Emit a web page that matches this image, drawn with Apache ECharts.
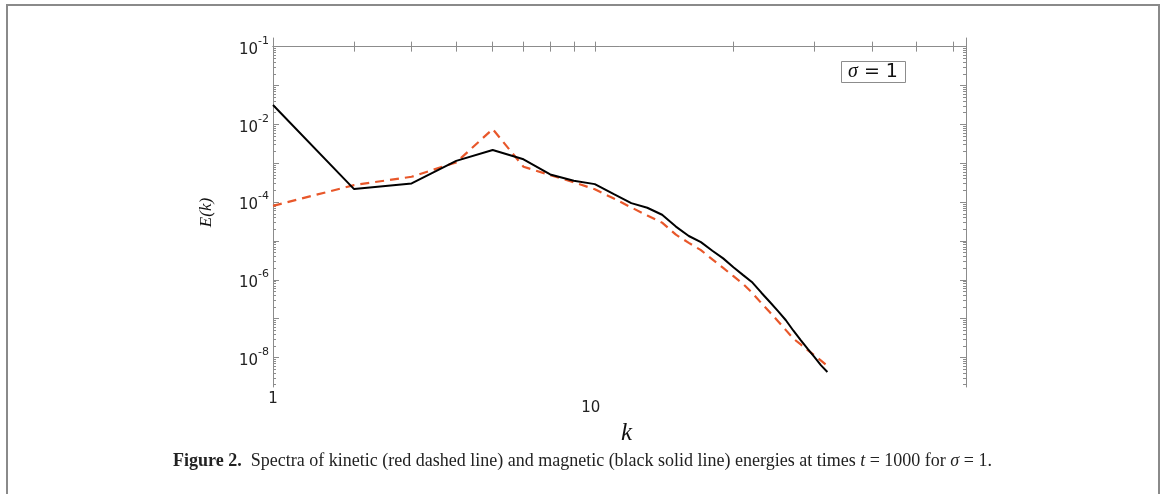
<!DOCTYPE html>
<html><head><meta charset="utf-8">
<script src="https://cdn.jsdelivr.net/npm/echarts@6/dist/echarts.min.js"></script>
<style>html,body{margin:0;padding:0;background:#fff}#c{width:1165px;height:494px}</style>
</head><body><div id="c"></div>
<script>
// wavenumber positions on the log axis
const kValues = [2,3,4,5,6,7,8,9,10,11,12,13,14,15,16,17,18,19,20,21,22,23,24,25,26,27,28,29,30,31,32];
// magnetic energy spectrum (black solid)
const magneticE = [3.14e-2,2.16e-4,3.02e-4,1.15e-3,2.18e-3,1.26e-3,5.15e-4,3.53e-4,2.90e-4,1.60e-4,9.4e-5,7.16e-5,4.72e-5,2.34e-5,1.34e-5,9.3e-6,5.6e-6,3.56e-6,2.11e-6,1.32e-6,8.5e-7,4.66e-7,2.69e-7,1.57e-7,9.1e-8,4.9e-8,2.81e-8,1.66e-8,1.02e-8,6.3e-9,4.26e-9];
// kinetic energy spectrum (red dashed)
const kineticE = [8.0e-5,2.74e-4,4.48e-4,1.05e-3,7.57e-3,8.1e-4,4.94e-4,3.24e-4,2.14e-4,1.23e-4,7.28e-5,4.53e-5,2.96e-5,1.45e-5,8.9e-6,5.8e-6,3.36e-6,2.02e-6,1.24e-6,7.8e-7,4.55e-7,2.51e-7,1.46e-7,8.6e-8,5.07e-8,3.06e-8,2.17e-8,1.56e-8,1.13e-8,8.3e-9,6.1e-9];
// axis ranges and tick labels
const xRange = [2, 64];
const yRange = [1.746e-9, 1.667];
const xLabelPos = [2, 10];
const xLabelText = ['1', '10'];
const yLabelPos = [1, 1e-2, 1e-4, 1e-6, 1e-8];
const yLabelExp = ['-1', '-2', '-4', '-6', '-8'];
const xMajorTicks = [3,4,5,6,7,8,9,10,20,30,40,50,60];

const L = Math.log10;
const xTickVals = xMajorTicks.map(L);
const yMajorVals = [];
const yMinorVals = [];
for (let e = -9; e <= 0; e++) {
  if (e >= L(yRange[0]) && e <= L(yRange[1])) yMajorVals.push(e);
  for (let m = 2; m <= 9; m++) {
    const v = e + L(m);
    if (v >= L(yRange[0]) && v <= L(yRange[1])) yMinorVals.push(v);
  }
}
const near = (a, b) => Math.abs(a - b) < 1e-6;
const gray = '#8c8c8c';
const labelFont = 'DejaVu Sans';

function xFmt(v) {
  for (let i = 0; i < xLabelPos.length; i++) {
    if (near(L(xLabelPos[i]), v)) return i === 0 ? '{a|' + xLabelText[i] + '}' : '{b|' + xLabelText[i] + '}';
  }
  return '';
}
function yFmt(v) {
  for (let i = 0; i < yLabelPos.length; i++) {
    if (near(L(yLabelPos[i]), v)) return '{b|10}{s|' + yLabelExp[i] + '}';
  }
  return '';
}

const baseX = {
  type: 'value', min: L(xRange[0]), max: L(xRange[1]),
  splitLine: { show: false },
  axisLine: { show: true, lineStyle: { color: gray, width: 1 } }
};
const baseY = {
  type: 'value', min: L(yRange[0]), max: L(yRange[1]),
  splitLine: { show: false },
  axisLine: { show: true, lineStyle: { color: gray, width: 1 } }
};

const xAxes = [
  Object.assign({}, baseX, {
    position: 'bottom',
    name: 'k', nameLocation: 'middle', nameGap: 22,
    nameTextStyle: { fontFamily: 'Liberation Serif', fontStyle: 'italic', fontSize: 25, color: '#111', padding: [0, 0, 0, 14] },
    axisTick: { show: true, inside: true, length: 5, customValues: xTickVals, lineStyle: { color: gray } },
    axisLabel: {
      show: true, customValues: xLabelPos.map(L), formatter: xFmt, margin: 5,
      rich: {
        a: { fontFamily: labelFont, fontSize: 15, color: '#222' },
        b: { fontFamily: labelFont, fontSize: 15, color: '#222', padding: [9, 8, 0, 0] }
      }
    }
  }),
  Object.assign({}, baseX, {
    position: 'top',
    axisTick: { show: true, inside: true, length: 5, customValues: xTickVals, lineStyle: { color: gray } },
    axisLabel: { show: false }
  })
];

const yAxes = [
  Object.assign({}, baseY, {
    position: 'left',
    name: 'E(k)', nameLocation: 'middle', nameGap: 58, nameRotate: 90,
    nameTextStyle: { fontFamily: 'Liberation Serif', fontStyle: 'italic', fontSize: 17, color: '#111' },
    axisTick: { show: true, inside: true, length: 6, customValues: yMajorVals, lineStyle: { color: gray } },
    axisLabel: {
      show: true, customValues: yLabelPos.map(L), formatter: yFmt, margin: 4,
      rich: {
        b: { fontFamily: labelFont, fontSize: 15, color: '#222', lineHeight: 22, verticalAlign: 'bottom' },
        s: { fontFamily: labelFont, fontSize: 11, color: '#222', lineHeight: 22, verticalAlign: 'top' }
      }
    }
  }),
  Object.assign({}, baseY, {
    position: 'left',
    axisLine: { show: false },
    axisTick: { show: true, inside: true, length: 3, customValues: yMinorVals, lineStyle: { color: gray } },
    axisLabel: { show: false }
  }),
  Object.assign({}, baseY, {
    position: 'right',
    axisTick: { show: true, inside: true, length: 6, customValues: yMajorVals, lineStyle: { color: gray } },
    axisLabel: { show: false }
  }),
  Object.assign({}, baseY, {
    position: 'right',
    axisLine: { show: false },
    axisTick: { show: true, inside: true, length: 3, customValues: yMinorVals, lineStyle: { color: gray } },
    axisLabel: { show: false }
  })
];

const toPts = (ys) => kValues.map((kv, i) => [L(kv), L(ys[i])]);

const chart = echarts.init(document.getElementById('c'), null, { renderer: 'canvas' });
chart.setOption({
  animation: false,
  backgroundColor: '#fff',
  grid: { left: 273, right: 199, top: 38, bottom: 107 },
  xAxis: xAxes,
  yAxis: yAxes,
  title: {
    text: '{s|σ} = 1',
    left: 841, top: 61,
    borderColor: gray, borderWidth: 1,
    padding: [0, 8, 0, 7],
    textStyle: {
      fontFamily: labelFont, fontSize: 19, fontWeight: 'normal', color: '#111', lineHeight: 22,
      rich: { s: { fontFamily: 'Liberation Serif', fontStyle: 'italic', fontSize: 20, color: '#111', lineHeight: 22 } }
    }
  },
  graphic: [
    { type: 'polyline', silent: true, shape: { points: [[7, 494], [7, 5], [1159, 5], [1159, 494]] },
      style: { stroke: '#8a8a8a', lineWidth: 2, fill: null } },
    { type: 'text', left: 'center', top: 452, silent: true,
      style: {
        text: '{b|Figure 2.}  Spectra of kinetic (red dashed line) and magnetic (black solid line) energies at times {i|t} = 1000 for {i|σ} = 1.',
        font: '18px "Liberation Serif"', fill: '#222',
        rich: {
          b: { fontFamily: 'Liberation Serif', fontWeight: 'bold', fontSize: 18, fill: '#222' },
          i: { fontFamily: 'Liberation Serif', fontStyle: 'italic', fontSize: 18, fill: '#222' }
        }
      } }
  ],
  series: [
    { name: 'kinetic', type: 'line', xAxisIndex: 0, yAxisIndex: 0, data: toPts(kineticE),
      showSymbol: false, symbol: 'none', z: 3,
      lineStyle: { color: '#e8572a', width: 2.2, type: [9, 6] } },
    { name: 'magnetic', type: 'line', xAxisIndex: 0, yAxisIndex: 0, data: toPts(magneticE),
      showSymbol: false, symbol: 'none', z: 4,
      lineStyle: { color: '#000', width: 2 } }
  ]
});
</script>
</body></html>
